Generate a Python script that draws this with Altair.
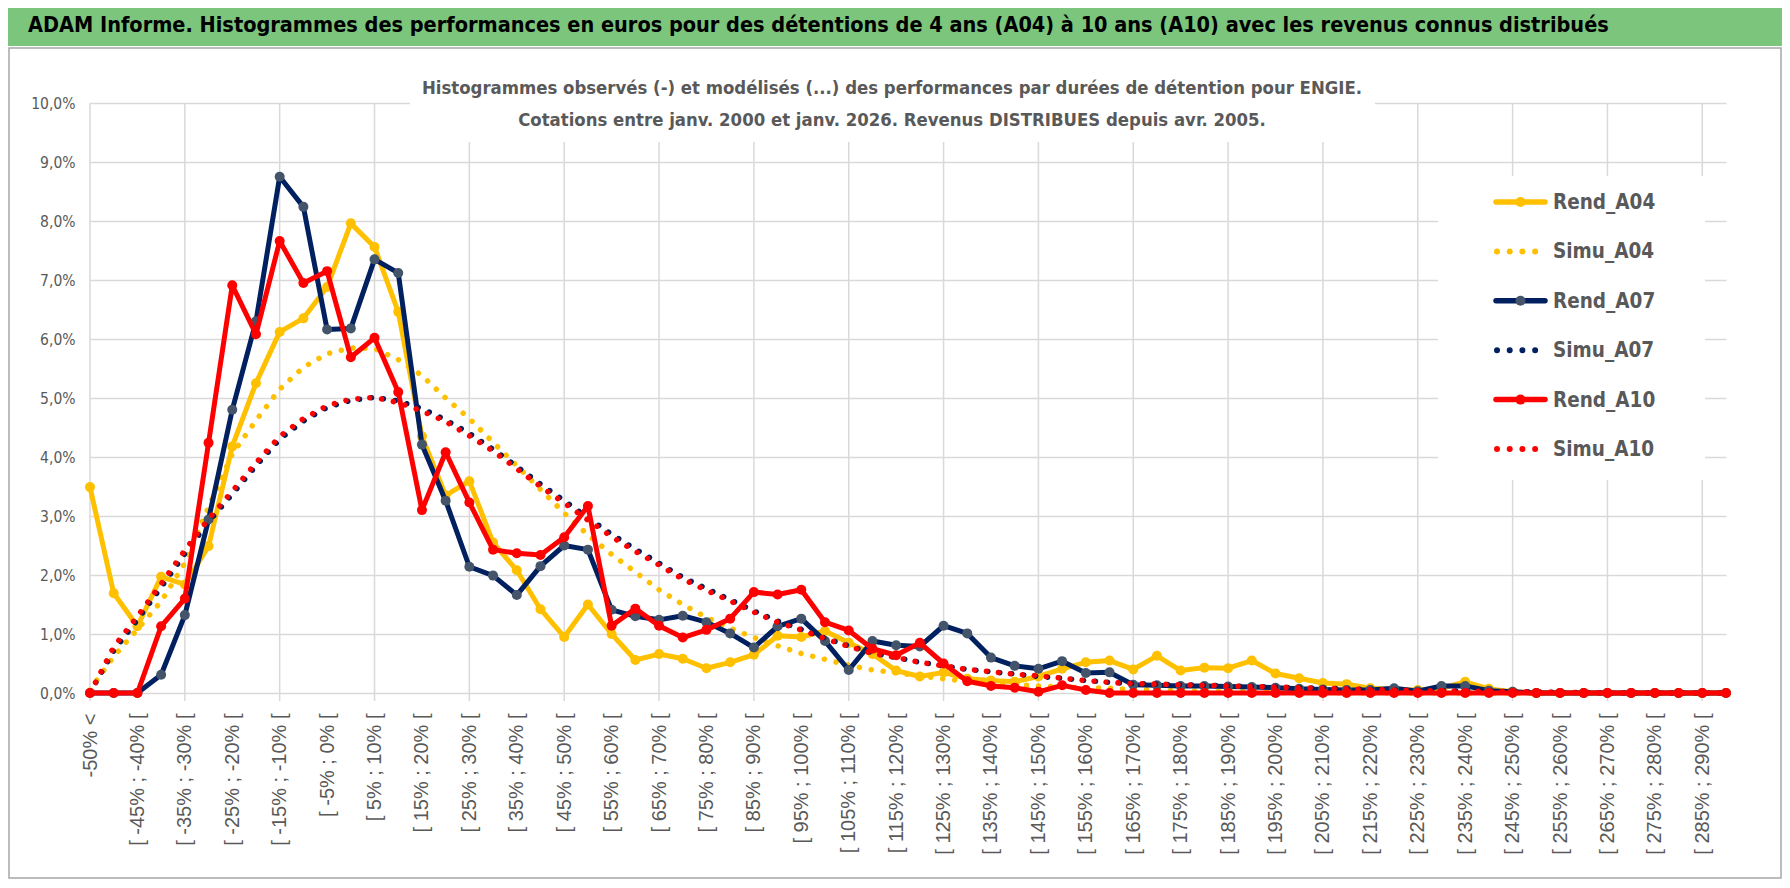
import altair as alt
import pandas as pd

# ---------------- data ----------------
categories = ["-50% <"] + [f"[ {lo}% ; {lo + 5}% [" for lo in range(-50, 295, 5)]
tick_labels = categories[::2]
grid_categories = categories[::4]
y_ticks = [0, 1, 2, 3, 4, 5, 6, 7, 8, 9, 10]

series_names = ["Rend_A04", "Simu_A04", "Rend_A07", "Simu_A07", "Rend_A10", "Simu_A10"]

rend_a04 = [3.49, 1.69, 1.13, 1.97, 1.84, 2.49, 4.18, 5.25, 6.12, 6.35,
            6.88, 7.96, 7.56, 6.46, 4.35, 3.35, 3.59, 2.55, 2.08, 1.42,
            0.95, 1.50, 1.00, 0.56, 0.66, 0.58, 0.42, 0.52, 0.65, 0.97,
            0.95, 1.05, 0.85, 0.66, 0.38, 0.28, 0.35, 0.24, 0.21, 0.19,
            0.28, 0.41, 0.52, 0.55, 0.40, 0.63, 0.38, 0.43, 0.42, 0.55,
            0.33, 0.25, 0.17, 0.15, 0.08, 0.06, 0.05, 0.08, 0.19, 0.07,
            0.02, 0, 0, 0, 0, 0, 0, 0, 0, 0]
simu_a04 = [0.05, 0.62, 1.08, 1.55, 2.20, 3.15, 4.05, 4.62, 5.15, 5.52,
            5.75, 5.85, 5.84, 5.65, 5.38, 5.00, 4.65, 4.25, 3.85, 3.45,
            3.05, 2.68, 2.35, 2.05, 1.75, 1.50, 1.28, 1.10, 0.94, 0.80,
            0.67, 0.57, 0.47, 0.39, 0.34, 0.29, 0.24, 0.20, 0.17, 0.14,
            0.12, 0.10, 0.09, 0.08, 0.06, 0.05, 0.04, 0.03, 0.03, 0.02,
            0.02, 0.01, 0.01, 0, 0, 0, 0, 0, 0, 0,
            0, 0, 0, 0, 0, 0, 0, 0, 0, 0]
rend_a07 = [0, 0, 0, 0.31, 1.32, 2.94, 4.80, 6.30, 8.75, 8.24,
            6.16, 6.18, 7.35, 7.12, 4.21, 3.26, 2.14, 1.99, 1.66, 2.15,
            2.50, 2.43, 1.41, 1.30, 1.24, 1.31, 1.20, 1.01, 0.77, 1.13,
            1.26, 0.88, 0.39, 0.88, 0.81, 0.79, 1.14, 1.01, 0.60, 0.46,
            0.41, 0.54, 0.34, 0.35, 0.14, 0.13, 0.12, 0.12, 0.11, 0.10,
            0.09, 0.07, 0.06, 0.05, 0.05, 0.08, 0.03, 0.12, 0.12, 0.04,
            0.02, 0, 0, 0, 0, 0, 0, 0, 0, 0]
simu_a07 = [0.0, 0.72, 1.24, 1.79, 2.36, 2.90, 3.37, 3.85, 4.30, 4.61,
            4.84, 4.96, 5.01, 4.95, 4.82, 4.63, 4.40, 4.13, 3.84, 3.54,
            3.26, 2.97, 2.69, 2.44, 2.20, 1.96, 1.77, 1.58, 1.39, 1.22,
            1.08, 0.93, 0.80, 0.68, 0.60, 0.52, 0.46, 0.40, 0.36, 0.32,
            0.28, 0.25, 0.21, 0.18, 0.16, 0.15, 0.14, 0.13, 0.12, 0.11,
            0.10, 0.09, 0.08, 0.07, 0.06, 0.05, 0.04, 0.04, 0.03, 0.03,
            0.02, 0.02, 0.01, 0.01, 0, 0, 0, 0, 0, 0]
rend_a10 = [0, 0, 0, 1.13, 1.60, 4.24, 6.91, 6.08, 7.66, 6.95,
            7.15, 5.69, 6.02, 5.10, 3.10, 4.08, 3.23, 2.43, 2.37, 2.34,
            2.64, 3.17, 1.14, 1.43, 1.14, 0.94, 1.07, 1.26, 1.71, 1.67,
            1.75, 1.20, 1.06, 0.75, 0.64, 0.85, 0.50, 0.20, 0.12, 0.09,
            0.02, 0.13, 0.05, 0, 0, 0, 0, 0, 0, 0,
            0, 0, 0, 0, 0, 0, 0, 0, 0, 0,
            0, 0, 0, 0, 0, 0, 0, 0, 0, 0]
simu_a10 = [0.0, 0.78, 1.30, 1.85, 2.42, 2.95, 3.42, 3.90, 4.35, 4.65,
            4.87, 4.98, 5.01, 4.92, 4.78, 4.60, 4.36, 4.10, 3.80, 3.50,
            3.22, 2.93, 2.65, 2.40, 2.17, 1.93, 1.74, 1.56, 1.37, 1.20,
            1.07, 0.92, 0.79, 0.67, 0.60, 0.52, 0.46, 0.40, 0.36, 0.32,
            0.29, 0.25, 0.21, 0.18, 0.16, 0.15, 0.14, 0.13, 0.12, 0.11,
            0.10, 0.09, 0.08, 0.07, 0.06, 0.05, 0.04, 0.04, 0.03, 0.03,
            0.02, 0.02, 0.01, 0.01, 0, 0, 0, 0, 0, 0]

series_values = [rend_a04, simu_a04, rend_a07, simu_a07, rend_a10, simu_a10]

title_text = ("ADAM Informe. Histogrammes des performances en euros pour des détentions "
              "de 4 ans (A04) à 10 ans (A10) avec les revenus connus distribués")
subtitle_1 = ("Histogrammes observés (-) et modélisés (...) des performances par durées "
              "de détention pour ENGIE.")
subtitle_2 = "Cotations entre janv. 2000 et janv. 2026. Revenus DISTRIBUES depuis avr. 2005."

rows = []
for name, vals in zip(series_names, series_values):
    for c, v in zip(categories, vals):
        rows.append({"cat": c, "series": name, "value": v})
df = pd.DataFrame(rows)
grid_df = pd.DataFrame({"cat": grid_categories})
one = pd.DataFrame({"d": [0]})

# ---------------- styles ----------------
W, H = 1636, 590
NARROW = "DejaVu Sans Condensed, DejaVu Sans, sans-serif"
REG = "Liberation Sans, Arial, sans-serif"
GRAY = "#595959"
GRID = "#D9D9D9"
GOLD, NAVY, RED = "#FFC000", "#002060", "#FF0000"
styles = {
    "Rend_A04": dict(color=GOLD, marker=GOLD, dotted=False),
    "Simu_A04": dict(color=GOLD, marker=None, dotted=True),
    "Rend_A07": dict(color=NAVY, marker="#44546A", dotted=False),
    "Simu_A07": dict(color=NAVY, marker=None, dotted=True),
    "Rend_A10": dict(color=RED, marker=RED, dotted=False),
    "Simu_A10": dict(color=RED, marker=None, dotted=True),
}
DOT = [0.01, 12]

x_enc = alt.X(
    "cat:N", sort=categories,
    scale=alt.Scale(type="point", padding=0),
    axis=alt.Axis(values=tick_labels, labelAngle=-90, labelFont=REG, labelFontSize=20,
                  labelColor=GRAY, grid=False, ticks=False, tickSize=0, domain=False,
                  labelPadding=20, title=None, labelOverlap=False, labelLimit=400),
)
y_enc = alt.Y(
    "value:Q",
    scale=alt.Scale(domain=[0, 10], nice=False),
    axis=alt.Axis(values=y_ticks, labelExpr="replace(format(datum.value, '.1f'), '.', ',') + '%'",
                  labelFont=NARROW, labelFontSize=15.5, labelColor=GRAY, grid=True,
                  gridColor=GRID, gridWidth=1.5, ticks=False, tickSize=0, domain=False,
                  labelPadding=15, title=None),
)

layers = []

# outer frame and banner
layers.append(alt.Chart(one).mark_rect(fillOpacity=0, stroke="#A6A6A6", strokeWidth=1.5).encode(
    x=alt.value(-81), x2=alt.value(1691), y=alt.value(-55), y2=alt.value(775)))
layers.append(alt.Chart(one).mark_rect(color="#7CC57C").encode(
    x=alt.value(-82), x2=alt.value(1692), y=alt.value(-95), y2=alt.value(-57)))
layers.append(alt.Chart(one).mark_text(font=NARROW, fontSize=21.5, fontWeight="bold", color="black",
                                       align="left", baseline="middle").encode(
    x=alt.value(-62), y=alt.value(-77), text=alt.value(title_text)))

# vertical gridlines every 4 categories
layers.append(alt.Chart(grid_df).mark_rule(color=GRID, strokeWidth=1.5).encode(
    x=x_enc, y=alt.value(0), y2=alt.value(H + 8)))

# subtitle box
layers.append(alt.Chart(one).mark_rect(color="white").encode(
    x=alt.value(320), x2=alt.value(1285), y=alt.value(-48), y2=alt.value(39)))
for txt, yy in [(subtitle_1, -15), (subtitle_2, 17)]:
    layers.append(alt.Chart(one).mark_text(font=NARROW, fontSize=18.4, fontWeight="bold", color=GRAY,
                                           align="center", baseline="middle").encode(
        x=alt.value(802), y=alt.value(yy), text=alt.value(txt)))

# legend box
layers.append(alt.Chart(one).mark_rect(color="white").encode(
    x=alt.value(1348), x2=alt.value(1615), y=alt.value(73), y2=alt.value(377)))

# data series
for name in series_names:
    st = styles[name]
    base = alt.Chart(df).transform_filter(alt.datum.series == name).encode(x=x_enc, y=y_enc)
    if st["dotted"]:
        layers.append(base.mark_line(color=st["color"], strokeWidth=5.5, strokeDash=DOT,
                                     strokeCap="round"))
    else:
        layers.append(base.mark_line(color=st["color"], strokeWidth=5, strokeCap="round",
                                     strokeJoin="round"))
        layers.append(base.mark_circle(color=st["marker"], size=100, opacity=1))

# legend items
for k, name in enumerate(series_names):
    st = styles[name]
    yk = 99 + 49.4 * k
    if st["dotted"]:
        layers.append(alt.Chart(one).mark_rule(color=st["color"], strokeWidth=6, strokeDash=[0.01, 12.7],
                                               strokeCap="round").encode(
            x=alt.value(1407), x2=alt.value(1457), y=alt.value(yk)))
    else:
        layers.append(alt.Chart(one).mark_rule(color=st["color"], strokeWidth=5.5,
                                               strokeCap="round").encode(
            x=alt.value(1406), x2=alt.value(1455), y=alt.value(yk)))
        layers.append(alt.Chart(one).mark_circle(color=st["marker"], size=100, opacity=1).encode(
            x=alt.value(1430.5), y=alt.value(yk)))
    layers.append(alt.Chart(one).mark_text(font=NARROW, fontSize=20.5, fontWeight="bold", color=GRAY,
                                           align="left", baseline="middle").encode(
        x=alt.value(1463), y=alt.value(yk + 1), text=alt.value(name)))

chart = alt.layer(*layers).properties(
    width=W, height=H,
    autosize=alt.AutoSizeParams(type="none"),
    padding={"left": 82, "top": 95, "right": 56, "bottom": 187},
    background="white",
).configure_view(stroke=None)

chart.save("out.html", embed_options={"renderer": "svg", "actions": False})
